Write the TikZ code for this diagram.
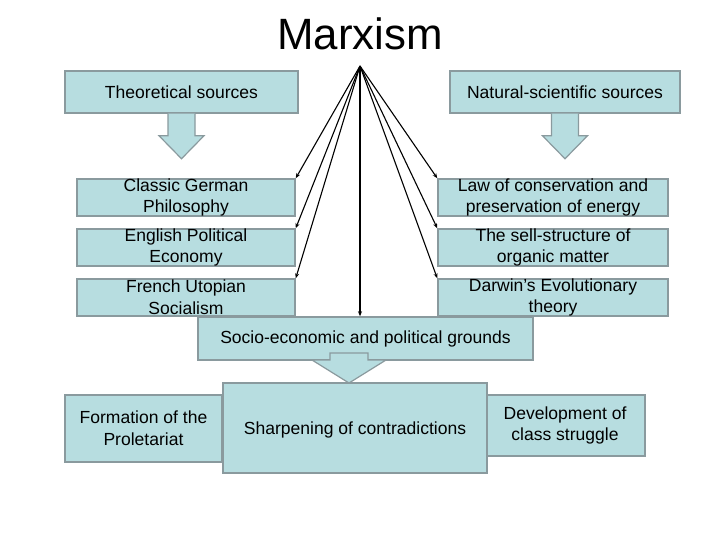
\documentclass[tikz,border=0pt]{standalone}
\usepackage{fontspec}
\setmainfont{Liberation Sans}
\usetikzlibrary{positioning,arrows.meta}
\definecolor{boxfill}{RGB}{183,221,224}
\definecolor{boxline}{RGB}{138,154,158}

\begin{document}
\begin{tikzpicture}[x=1bp,y=-1bp,font=\fontsize{17.6}{22}\selectfont,>={Stealth[length=5bp,width=4bp]},
  src/.style={draw=boxline,line width=1.5bp,fill=boxfill,align=center,inner sep=0pt},
  item/.style={src,minimum height=37bp,inner ysep=-3bp},
  blockarrow/.style={draw=boxline,line width=1.2bp,fill=boxfill},
  link/.style={->,line width=1.1bp}]
  \useasboundingbox[fill=white] (0,0) rectangle (720,540);
  \node[anchor=base,font=\fontsize{44}{50}\selectfont] (title) at (360,50) {Marxism};
  \coordinate (apex) at (360,66);
  % sources
  \node[src,minimum width=233bp,minimum height=42bp] (theory) at (181.5,92) {Theoretical sources};
  \node[src,minimum width=230bp,minimum height=42bp] (natural) at (565,92) {Natural-scientific sources};
  \foreach \c in {theory,natural}
    \draw[blockarrow] ([xshift=-13.5bp]\c.south) -- ++(0,22) -- ++(-9,0) -- ++(22.5,23)
      -- ++(22.5,-23) -- ++(-9,0) -- ++(0,-22);
  % left column
  \node[item,minimum width=218bp] (german) at (186,197.5) {Classic German\\Philosophy};
  \node[item,minimum width=218bp,below=11.5bp of german] (english) {English Political\\Economy};
  \node[item,minimum width=218bp,below=11.5bp of english] (french) {French Utopian\\Socialism};
  % right column
  \node[item,minimum width=230bp] (law) at (553,197.5) {Law of conservation and\\preservation of energy};
  \node[item,minimum width=230bp,below=11.5bp of law] (sell) {The sell-structure of\\organic matter};
  \node[item,minimum width=230bp,below=11.5bp of sell] (darwin) {Darwin's Evolutionary\\theory};
  % grounds
  \node[src,minimum width=335bp,minimum height=43bp] (socio) at (365.5,338.5) {Socio-economic and political grounds};
  \foreach \t in {german,english,french}
    \draw[link] (apex) -- (\t.north east);
  \foreach \t in {law,sell,darwin}
    \draw[link] (apex) -- (\t.north west);
  \draw[link] (apex) -- (apex |- socio.north);
  % bottom row
  \node[src,minimum width=157bp,minimum height=67bp] (proletariat) at (143.5,428.5) {Formation of the\\Proletariat};
  \node[src,minimum width=160bp,minimum height=61bp] (struggle) at (565,425.5) {Development of\\class struggle};
  \node[src,minimum width=264bp,minimum height=90bp,text depth=-3bp] (sharpen) at (355,428) {Sharpening of contradictions};
  \draw[blockarrow] (330,353) -- (330,360) -- (312,360) -- (349,383) -- (386,360) -- (368,360) -- (368,353) -- cycle;
\end{tikzpicture}
\end{document}
